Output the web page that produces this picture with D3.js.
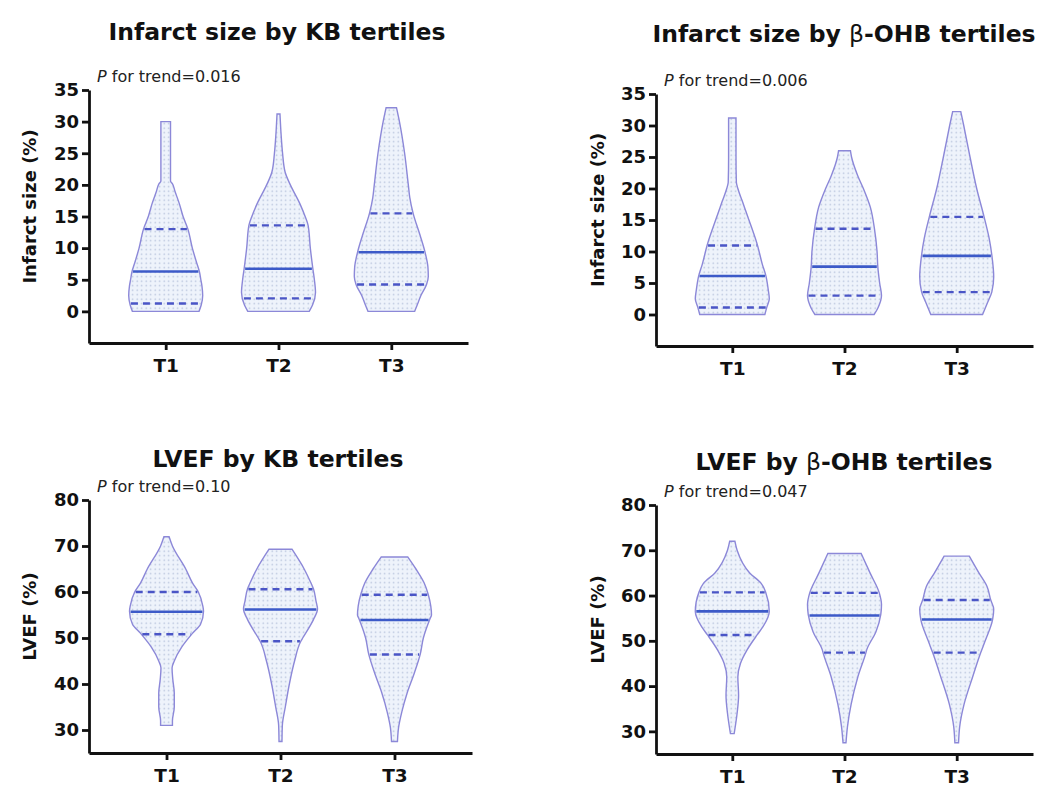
<!DOCTYPE html>
<meta charset="utf-8">
<script src="https://d3js.org/d3.v7.min.js"></script>
<style>
  body { margin: 0; background: #fff; font-family: "DejaVu Sans", Verdana, sans-serif; }
  svg { display: block; }
</style>
<div id="chart"></div>
<script>

var categories = ["T1", "T2", "T3"];
var infarctTicks = [0, 5, 10, 15, 20, 25, 30, 35];
var lvefTicks = [30, 40, 50, 60, 70, 80];
var pTrend = ["0.016", "0.006", "0.10", "0.047"];

// violin profiles: [value, relative density]
var infarctKB_T1 = [[0,0.9],[1,0.96],[2.5,1.0],[4,0.98],[5,0.95],[6.3,0.91],[8,0.82],[10,0.72],[13,0.6],[15,0.47],[17,0.37],[19,0.25],[20.2,0.18],[20.6,0.13],[25,0.13],[30,0.13]];
var infarctKB_T2 = [[0,0.83],[1,0.92],[3,1.0],[5,0.97],[6.7,0.93],[10,0.86],[13.6,0.8],[15,0.72],[17,0.58],[20,0.32],[22,0.18],[25,0.11],[28,0.07],[31.2,0.04]];
var infarctKB_T3 = [[0,0.63],[1,0.7],[2.5,0.8],[4.2,0.95],[5.5,1.0],[7,0.99],[9.4,0.91],[12,0.78],[15.5,0.59],[18,0.5],[20,0.46],[25,0.36],[30,0.22],[32.2,0.14]];

var infarctOHB_T1 = [[0,0.88],[1.1,0.93],[2.5,1.0],[4,0.97],[6.1,0.91],[8,0.81],[11,0.68],[15,0.45],[18,0.27],[20,0.15],[21,0.11],[25,0.1],[31.2,0.1]];
var infarctOHB_T2 = [[0,0.8],[1,0.9],[3,1.0],[5,0.95],[7.6,0.9],[10,0.88],[13.6,0.81],[17,0.7],[20,0.51],[22,0.36],[25,0.19],[26,0.16]];
var infarctOHB_T3 = [[0,0.7],[2,0.84],[3.6,0.95],[6,1.0],[9.4,0.95],[12,0.88],[15.5,0.74],[20,0.54],[25,0.36],[30,0.19],[32.2,0.11]];

var lvefKB_T1 = [[31,0.16],[32,0.16],[35,0.21],[38,0.21],[41,0.17],[43.5,0.15],[45,0.21],[48,0.41],[51,0.7],[53,0.92],[55.8,1.0],[57,0.98],[60,0.86],[62,0.7],[65,0.52],[70,0.16],[72,0.07]];
var lvefKB_T2 = [[27.5,0.04],[31,0.05],[35,0.13],[40,0.24],[45,0.38],[49.3,0.55],[50,0.6],[54,0.89],[56.3,1.0],[58,0.96],[60.7,0.89],[62,0.82],[65,0.64],[69.3,0.31]];
var lvefKB_T3 = [[27.5,0.08],[30.5,0.11],[34,0.2],[38,0.34],[42,0.52],[46.6,0.7],[50,0.78],[54.2,0.96],[55,1.0],[57,0.98],[59.5,0.91],[62,0.8],[65,0.58],[67.6,0.36]];

var lvefOHB_T1 = [[29.5,0.05],[30,0.06],[34,0.13],[38,0.17],[42,0.15],[45,0.22],[48,0.4],[51.3,0.67],[53,0.82],[56.5,1.0],[60.8,0.9],[62.7,0.78],[65,0.47],[70,0.13],[72,0.07]];
var lvefOHB_T2 = [[27.5,0.04],[31,0.08],[36,0.18],[42,0.36],[47.4,0.58],[48,0.6],[52,0.85],[55.8,0.98],[58,1.0],[60.6,0.94],[65,0.69],[69.3,0.45]];
var lvefOHB_T3 = [[27.5,0.05],[31,0.08],[36,0.2],[42,0.43],[47.4,0.65],[50,0.77],[54.7,0.97],[57,1.0],[59,0.92],[62,0.82],[65,0.6],[68.7,0.34]];

// quartiles per tertile: [Q1, median, Q3]
var infarctKB_q = [[1.25,6.3,13.0],[2.05,6.75,13.6],[4.25,9.35,15.5]];
var infarctOHB_q = [[1.1,6.1,10.95],[3.0,7.6,13.6],[3.55,9.3,15.5]];
var lvefKB_q = [[50.8,55.7,60.0],[49.3,56.2,60.6],[46.4,53.9,59.4]];
var lvefOHB_q = [[51.3,56.5,60.7],[47.4,55.6,60.6],[47.4,54.7,59.0]];


var panels = [
  {title: ["Infarct size by KB tertiles"], ylabel: "Infarct size (%)", p: pTrend[0],
   profiles: [infarctKB_T1, infarctKB_T2, infarctKB_T3], quart: infarctKB_q,
   ticks: infarctTicks, domain: [-5, 35], x0: 89, x1: 468, yTop: 90, yBot: 343, titleX: 277, titleY: 40, labX: 30},
  {title: ["Infarct size by ", "β", "-OHB tertiles"], ylabel: "Infarct size (%)", p: pTrend[1],
   profiles: [infarctOHB_T1, infarctOHB_T2, infarctOHB_T3], quart: infarctOHB_q,
   ticks: infarctTicks, domain: [-5, 35], x0: 656, x1: 1033, yTop: 94, yBot: 346, titleX: 844, titleY: 42, labX: 598},
  {title: ["LVEF by KB tertiles"], ylabel: "LVEF (%)", p: pTrend[2],
   profiles: [lvefKB_T1, lvefKB_T2, lvefKB_T3], quart: lvefKB_q,
   ticks: lvefTicks, domain: [25, 80], x0: 89, x1: 472, yTop: 500, yBot: 753, titleX: 278, titleY: 467, labX: 30},
  {title: ["LVEF by ", "β", "-OHB tertiles"], ylabel: "LVEF (%)", p: pTrend[3],
   profiles: [lvefOHB_T1, lvefOHB_T2, lvefOHB_T3], quart: lvefOHB_q,
   ticks: lvefTicks, domain: [25, 80], x0: 656, x1: 1033, yTop: 505, yBot: 754, titleX: 844, titleY: 470, labX: 598}
];

var svg = d3.select("#chart").append("svg")
  .attr("width", 1056)
  .attr("height", 789);

// dotted fill like the GraphPad violins
var defs = svg.append("defs");
var pat = defs.append("pattern")
  .attr("id", "dots")
  .attr("patternUnits", "userSpaceOnUse")
  .attr("width", 4.5)
  .attr("height", 4.5);
pat.append("rect").attr("width", 4.5).attr("height", 4.5).attr("fill", "#eef3fb");
pat.append("circle").attr("cx", 2.2).attr("cy", 2.2).attr("r", 0.75).attr("fill", "#b4c0da");

var halfWidth = d3.scaleLinear().domain([0, 1]).range([0, 37]);

panels.forEach(function(pn) {
  var g = svg.append("g");

  var x = d3.scalePoint()
    .domain(categories)
    .range([pn.x0, pn.x1])
    .padding(0.68);

  var y = d3.scaleLinear()
    .domain(pn.domain)
    .range([pn.yBot, pn.yTop]);

  // violins
  pn.profiles.forEach(function(prof, i) {
    var cx = x(categories[i]);
    var area = d3.area()
      .y(function(d) { return y(d[0]); })
      .x0(function(d) { return cx - halfWidth(d[1]); })
      .x1(function(d) { return cx + halfWidth(d[1]); })
      .curve(d3.curveMonotoneY);

    g.append("path")
      .datum(prof)
      .attr("d", area)
      .attr("fill", "url(#dots)")
      .attr("stroke", "#8c88d8")
      .attr("stroke-width", 1.4);

    var dens = d3.scaleLinear()
      .domain(prof.map(function(d) { return d[0]; }))
      .range(prof.map(function(d) { return d[1]; }));

    pn.quart[i].forEach(function(q, k) {
      var w = halfWidth(dens(q)) - 1;
      g.append("line")
        .attr("x1", cx - w)
        .attr("x2", cx + w)
        .attr("y1", y(q))
        .attr("y2", y(q))
        .attr("stroke", k === 1 ? "#3c5ac8" : "#4a55c6")
        .attr("stroke-width", k === 1 ? 2.6 : 2.4)
        .attr("stroke-dasharray", k === 1 ? null : "7,5");
    });
  });

  // axes
  var yAxis = g.append("g")
    .attr("transform", "translate(" + pn.x0 + ",0)")
    .call(d3.axisLeft(y).tickValues(pn.ticks).tickSize(7).tickSizeOuter(0).tickPadding(3));

  var xAxis = g.append("g")
    .attr("transform", "translate(0," + pn.yBot + ")")
    .call(d3.axisBottom(x).tickSize(7).tickSizeOuter(0).tickPadding(9));

  [yAxis, xAxis].forEach(function(ax) {
    ax.select(".domain").attr("stroke", "#111").attr("stroke-width", 2.8);
    ax.selectAll(".tick line").attr("stroke", "#111").attr("stroke-width", 2.8);
    ax.selectAll(".tick text")
      .attr("fill", "#111")
      .style("font-family", "DejaVu Sans, sans-serif")
      .style("font-weight", "bold");
  });
  yAxis.selectAll(".tick text").style("font-size", "18px");
  xAxis.selectAll(".tick text").style("font-size", "18.5px");

  // title
  var t = g.append("text")
    .attr("x", pn.titleX)
    .attr("y", pn.titleY)
    .attr("text-anchor", "middle")
    .style("font-size", "23.5px")
    .style("font-weight", "bold")
    .attr("fill", "#111");
  pn.title.forEach(function(s) {
    t.append("tspan")
      .style("font-weight", s === "β" ? "normal" : "bold")
      .text(s);
  });

  // y label
  g.append("text")
    .attr("transform", "translate(" + pn.labX + "," + ((pn.yTop + pn.yBot) / 2 - 10) + ")rotate(-90)")
    .attr("text-anchor", "middle")
    .attr("dy", "0.35em")
    .style("font-size", "18px")
    .style("font-weight", "bold")
    .attr("fill", "#111")
    .text(pn.ylabel);

  // P for trend
  var pt = g.append("text")
    .attr("x", pn.x0 + 8)
    .attr("y", pn.yTop - 8)
    .style("font-size", "16px")
    .attr("fill", "#222");
  pt.append("tspan").style("font-style", "italic").text("P");
  pt.append("tspan").text(" for trend=" + pn.p);
});

</script>
